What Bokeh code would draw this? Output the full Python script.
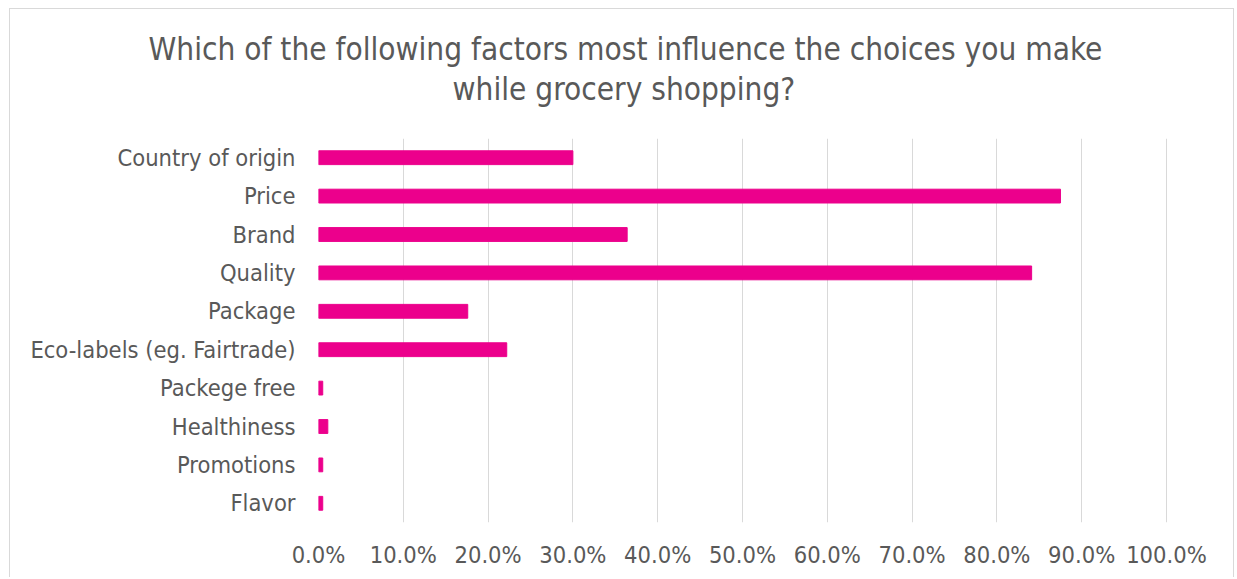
from bokeh.plotting import figure
from bokeh.models import FactorRange, Range1d, FixedTicker, NumeralTickFormatter, Title
from bokeh.embed import file_html
from bokeh.resources import INLINE

categories = ["Country of origin", "Price", "Brand", "Quality", "Package",
              "Eco-labels (eg. Fairtrade)", "Packege free", "Healthiness",
              "Promotions", "Flavor"]
shares = [0.300, 0.875, 0.364, 0.841, 0.176, 0.222, 0.005, 0.011, 0.005, 0.005]
x_ticks = [0.0, 0.1, 0.2, 0.3, 0.4, 0.5, 0.6, 0.7, 0.8, 0.9, 1.0]
title_lines = ["Which of the following factors most influence the choices you make",
               "while grocery shopping?"]

FONT = "DejaVu Sans Condensed"
GREY = "#595959"

p = figure(width=1225, height=569, output_backend="svg", toolbar_location=None,
           title=None,
           y_range=FactorRange(*categories[::-1]), x_range=Range1d(0, 1.0024),
           min_border_left=308, min_border_right=67, min_border_top=129,
           min_border_bottom=56)
p.styles = {"margin-left": "9px", "margin-top": "8px",
            "border-top": "1px solid #d9d9d9", "border-left": "1px solid #d9d9d9",
            "border-right": "1px solid #d9d9d9"}

p.hbar(y=categories, right=shares, left=0, height=0.36, color="#EC008C")

p.outline_line_color = None
p.background_fill_color = "white"
p.border_fill_color = "white"

p.xgrid.ticker = FixedTicker(ticks=x_ticks)
p.xgrid.grid_line_color = "#D9D9D9"
p.xgrid.grid_line_width = 1
p.ygrid.grid_line_color = None

p.xaxis.ticker = FixedTicker(ticks=x_ticks)
p.xaxis.formatter = NumeralTickFormatter(format="0.0%")
for ax in (p.xaxis[0], p.yaxis[0]):
    ax.axis_line_color = None
    ax.major_tick_line_color = None
    ax.minor_tick_line_color = None
    ax.major_label_text_font = FONT
    ax.major_label_text_font_size = "23.5px"
    ax.major_label_text_color = GREY
p.xaxis.major_label_standoff = 12
p.yaxis.major_label_standoff = 17

# empty spacer between the plot area and the title
p.add_layout(Title(text=" ", text_font_size="10px", standoff=17), "above")
# second line first (closest to the plot), then the first line above it
offsets = [-170, 134]
standoffs = [0, 4]
for i in (1, 0):
    p.add_layout(Title(text=title_lines[i], align="left", offset=offsets[i],
                       standoff=standoffs[i], text_font=FONT,
                       text_font_size="31.3px", text_font_style="normal",
                       text_color=GREY), "above")

open("out.html", "w").write(file_html(p, INLINE))
